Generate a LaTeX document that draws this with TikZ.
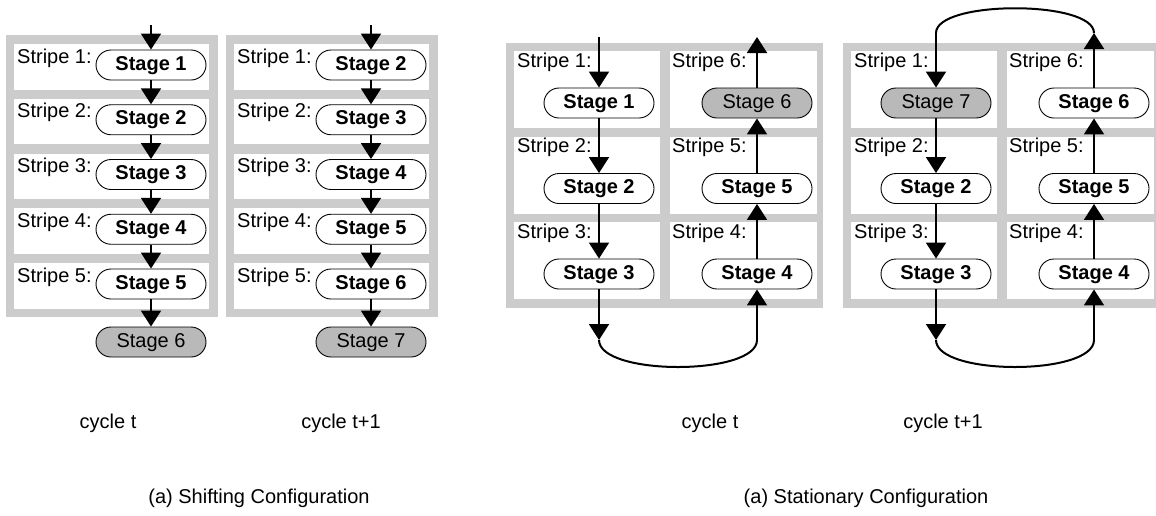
\documentclass[tikz,border=0pt]{standalone}
\usepackage{fontspec}
\setmainfont{Liberation Sans}
\usetikzlibrary{arrows.meta,positioning,calc}
\definecolor{framegray}{gray}{0.8}

\begin{document}
\begin{tikzpicture}[x=1pt,y=-1pt,
	>={Triangle[width=20pt,length=16pt]},
	flow/.style={line width=2pt},
	stage/.style={draw,line width=0.9pt,fill=white,rounded corners=15pt,minimum width=110pt,minimum height=30pt,inner sep=0pt,text height=14pt,text depth=4pt,font=\fontsize{20}{24}\selectfont\bfseries},
	newstage/.style={stage,fill=gray!55,font=\fontsize{20}{24}\selectfont},
	stripe/.style={anchor=base west,inner sep=0pt,font=\fontsize{20}{24}\selectfont},
	capt/.style={inner sep=0pt,font=\fontsize{20}{24}\selectfont}]
\useasboundingbox (0,0) rectangle (1156,515);

% shifting: five stripes per cycle
\foreach \dx in {0,220} {
	\fill[framegray] (6+\dx,35) rectangle (218+\dx,317);
	\foreach \i in {1,...,5}
		\fill[white] (14+\dx,{44+54.75*(\i-1)}) rectangle (209+\dx,{89.5+54.75*(\i-1)});
}
\foreach \i in {1,...,5} {
	\node[stripe] (sa\i) at (17,{63+54.75*(\i-1)}) {Stripe \i:};
	\node[stripe] (sb\i) at (237,{63+54.75*(\i-1)}) {Stripe \i:};
	\pgfmathtruncatemacro\nxt{\i+1}
	\node[stage] (a\i) at (151,{65+54.75*(\i-1)}) {Stage \i};
	\node[stage] (b\i) at (371,{65+54.75*(\i-1)}) {Stage \nxt};
}
\node[newstage] (a6) at (151,342) {Stage 6};
\node[newstage] (b6) at (371,342) {Stage 7};
\coordinate (ain) at (151,25);
\coordinate (bin) at (371,25);
\draw[flow,->] (ain) -- (a1);
\draw[flow,->] (bin) -- (b1);
\foreach \i [evaluate=\i as \j using int(\i+1)] in {1,...,5} {
	\draw[flow,->] (a\i) -- (a\j);
	\draw[flow,->] (b\i) -- (b\j);
}

% stationary: 3x2 stripes per cycle
\foreach \dx in {0,337} {
	\fill[framegray] (506+\dx,43) rectangle (823+\dx,308);
	\foreach \r in {1,2,3} {
		\fill[white] (514+\dx,{51+85.5*(\r-1)}) rectangle (660+\dx,{128+85.5*(\r-1)});
		\fill[white] (670+\dx,{51+85.5*(\r-1)}) rectangle (817+\dx,{128+85.5*(\r-1)});
	}
}
\foreach \r [evaluate=\r as \q using int(7-\r)] in {1,2,3} {
	\node[stripe] (sc\r) at (517,{67+85.5*(\r-1)}) {Stripe \r:};
	\node[stripe] (sc\q) at (672,{67+85.5*(\r-1)}) {Stripe \q:};
	\node[stripe] (sd\r) at (854,{67+85.5*(\r-1)}) {Stripe \r:};
	\node[stripe] (sd\q) at (1009,{67+85.5*(\r-1)}) {Stripe \q:};
}

% cycle t
\node[stage] (c1) at (599,103) {Stage 1};
\node[stage] (c2) at (599,188.5) {Stage 2};
\node[stage] (c3) at (599,274) {Stage 3};
\node[stage] (c4) at (757,274) {Stage 4};
\node[stage] (c5) at (757,188.5) {Stage 5};
\node[newstage] (c6) at (757,103) {Stage 6};
\coordinate (cin) at (599,37);
\coordinate (cout) at (757,37);
\coordinate (cdown) at (599,340);
\coordinate (cup) at (757,340);
\draw[flow,->] (cin) -- (c1);
\draw[flow,->] (c1) -- (c2);
\draw[flow,->] (c2) -- (c3);
\draw[flow,->] (c3) -- (cdown);
\draw[flow] (cdown) .. controls (599,376) and (757,376) .. (cup);
\draw[flow,->] (cup) -- (c4);
\draw[flow,->] (c4) -- (c5);
\draw[flow,->] (c5) -- (c6);
\draw[flow,->] (c6) -- (cout);

% cycle t+1
\node[newstage] (d7) at (936,103) {Stage 7};
\node[stage] (d2) at (936,188.5) {Stage 2};
\node[stage] (d3) at (936,274) {Stage 3};
\node[stage] (d4) at (1094,274) {Stage 4};
\node[stage] (d5) at (1094,188.5) {Stage 5};
\node[stage] (d6) at (1094,103) {Stage 6};
\coordinate (dtopL) at (936,33);
\coordinate (dtopR) at (1094,33);
\coordinate (ddown) at (936,340);
\coordinate (dup) at (1094,340);
\draw[flow] (dtopR) .. controls (1094,0) and (936,0) .. (dtopL);
\draw[flow,->] (dtopL) -- (d7);
\draw[flow,->] (d7) -- (d2);
\draw[flow,->] (d2) -- (d3);
\draw[flow,->] (d3) -- (ddown);
\draw[flow] (ddown) .. controls (936,376) and (1094,376) .. (dup);
\draw[flow,->] (dup) -- (d4);
\draw[flow,->] (d4) -- (d5);
\draw[flow,->] (d5) -- (d6);
\draw[flow,->] (d6) -- (dtopR);

% captions
\node[capt] (ta) at (108,423) {cycle t};
\node[capt] (tb) at (341,423) {cycle t+1};
\node[capt] (tc) at (710,423) {cycle t};
\node[capt] (td) at (943,423) {cycle t+1};
\node[capt] (shift) at (259,498) {(a) Shifting Configuration};
\node[capt] (stat) at (866,498) {(a) Stationary Configuration};
\end{tikzpicture}
\end{document}
